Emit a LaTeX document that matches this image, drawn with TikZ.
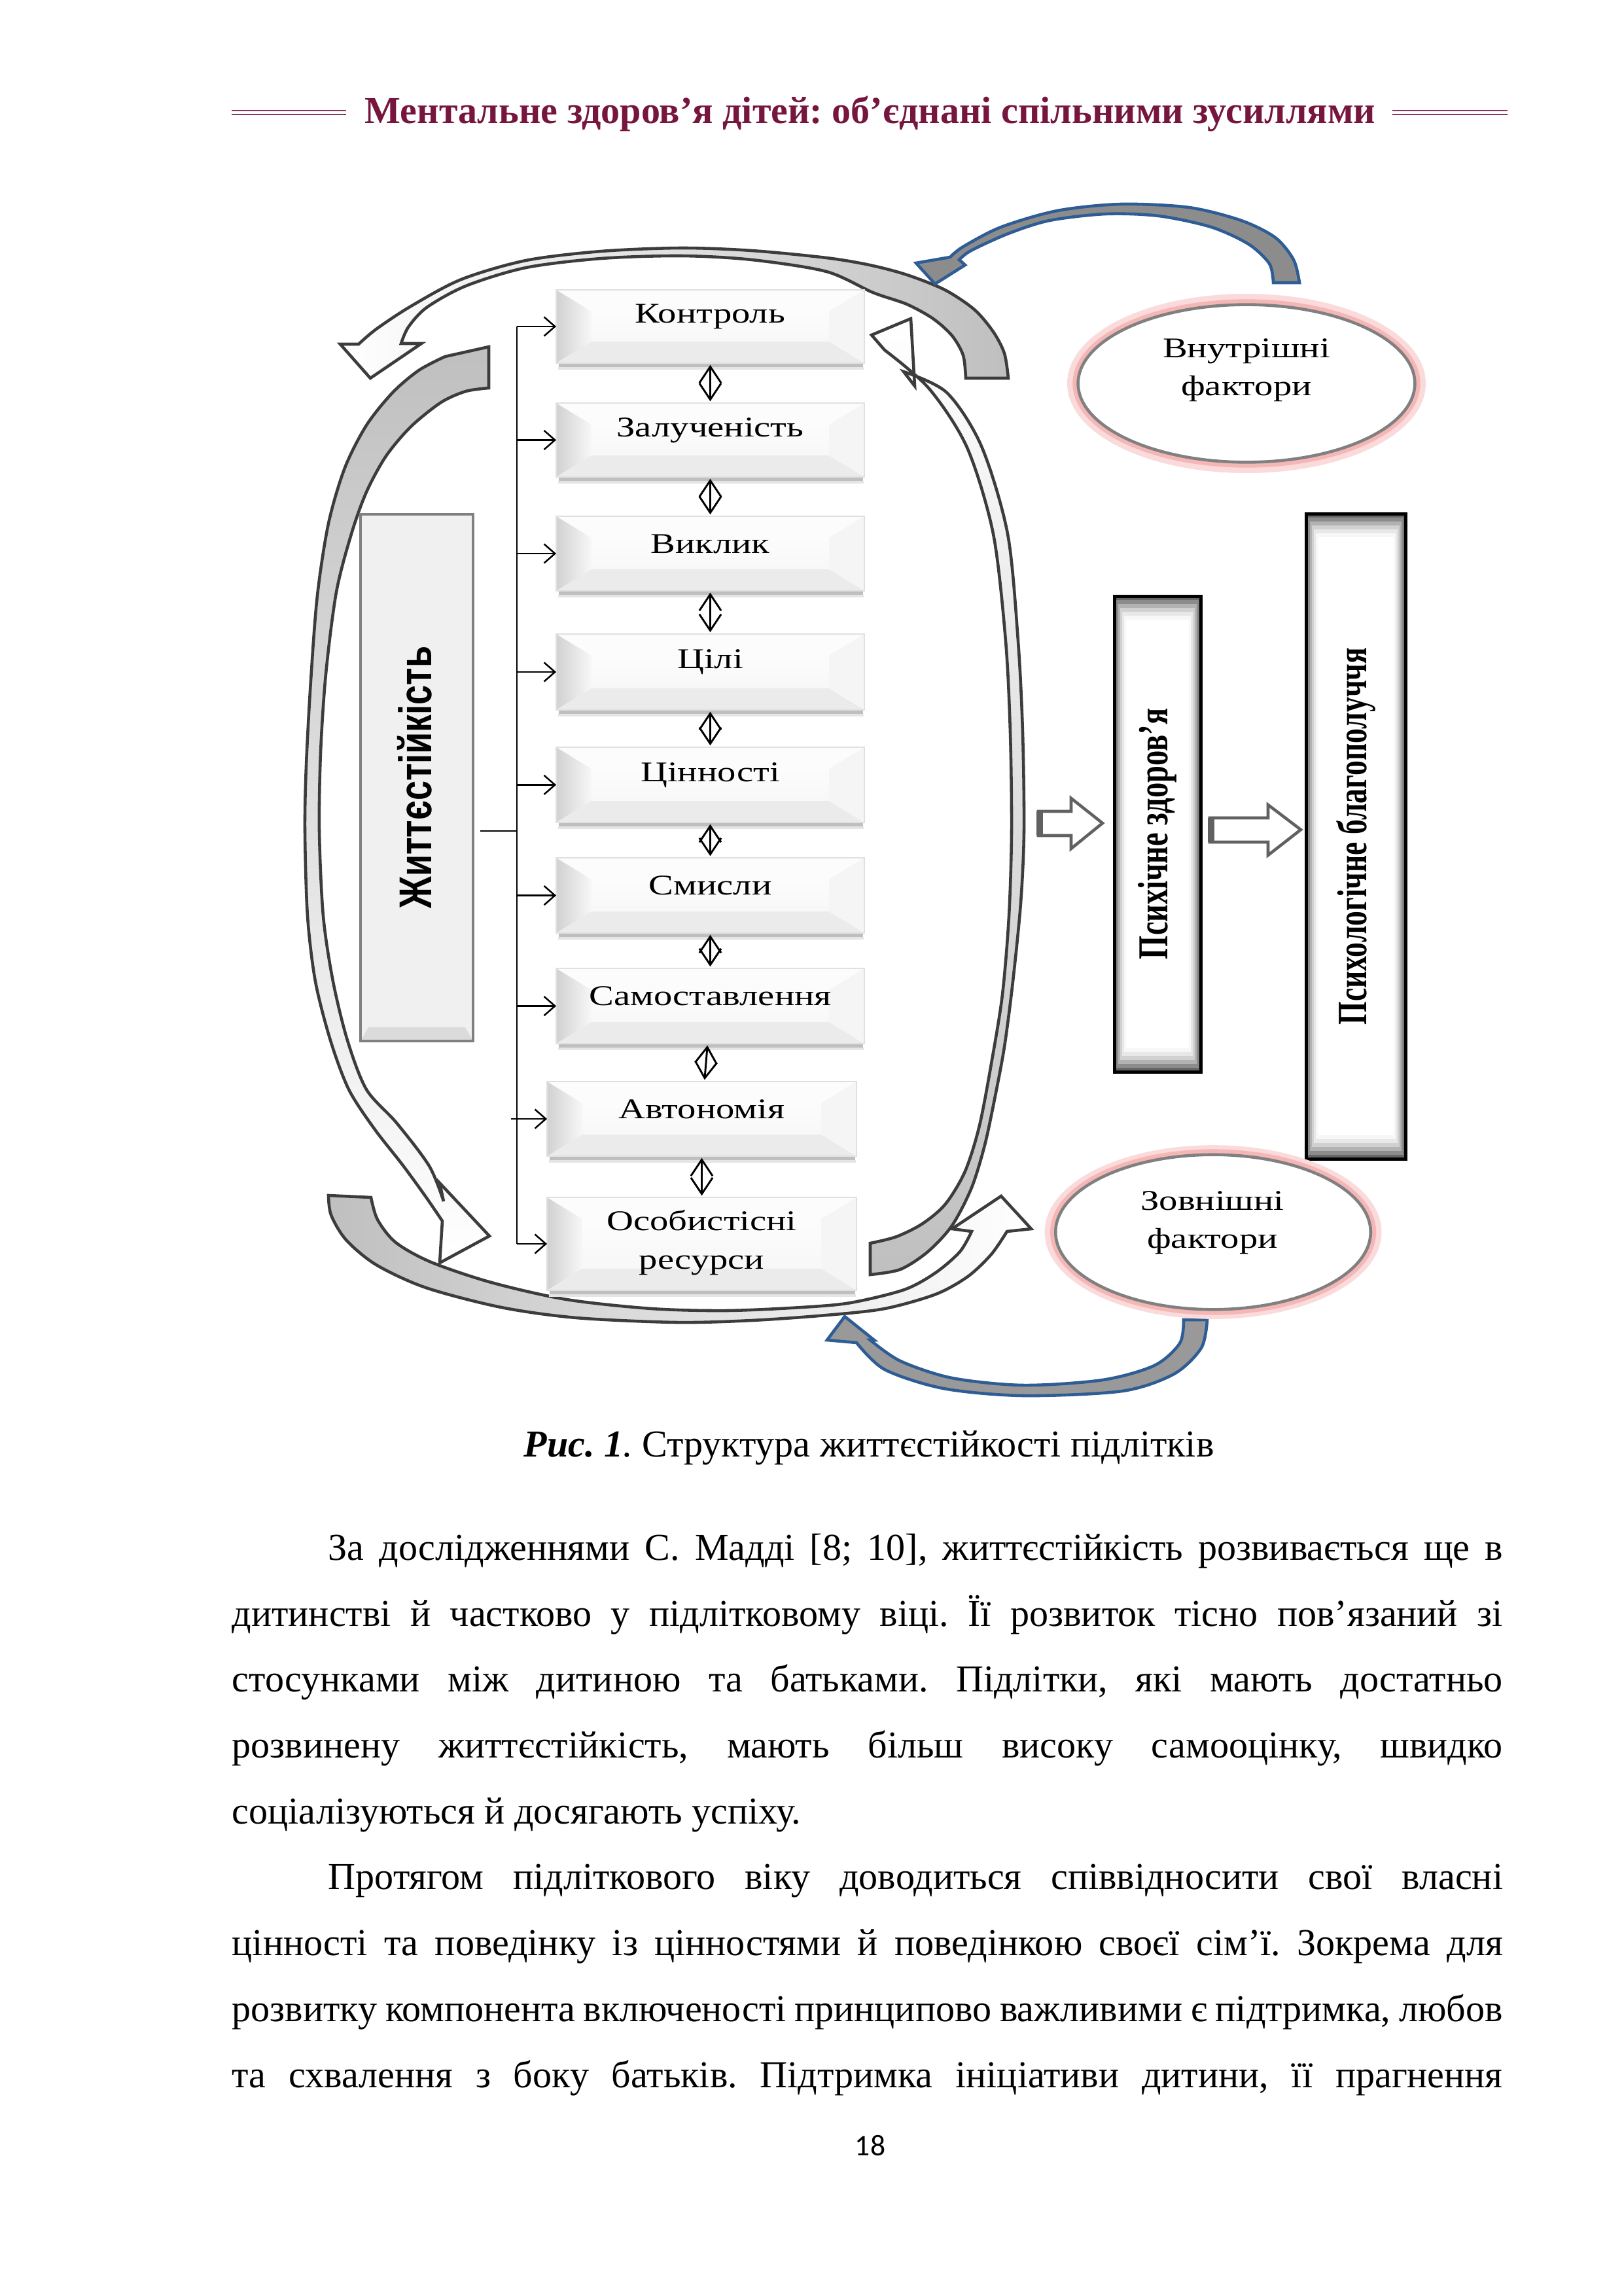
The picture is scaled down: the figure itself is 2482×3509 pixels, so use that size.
\documentclass[tikz,border=0pt]{standalone}
\usepackage{fontspec}
\usepackage{graphicx}
\setmainfont{Liberation Serif}
\newfontfamily\dgf[FakeStretch=1.3]{Liberation Serif}
\newfontfamily\sansb{Liberation Sans}
\newfontfamily\pnf{Carlito}
\usetikzlibrary{shapes.geometric,arrows.meta}
\definecolor{hdr}{RGB}{118,22,62}
\definecolor{hdrline}{RGB}{135,55,95}
\definecolor{arcline}{RGB}{60,60,60}
\definecolor{bluel}{RGB}{46,92,148}
\definecolor{glowc}{RGB}{240,150,150}
\definecolor{ringc}{RGB}{128,128,128}
\frenchspacing
% bevelled box: name, x1, y1, x2, y2 (pixels)
\newcommand{\bevbox}[5]{%
  \fill[black!25] (#2+4,#5) rectangle (#4-2,#5+6);
  \fill[black!10] (#2+3,#5+6) rectangle (#4-1,#5+10);
  \shade[top color=white,bottom color=black!4] (#2,#3) rectangle (#4,#5);
  \fill[black!1] (#2,#3) -- (#4,#3) -- (#4-54,#3+33) -- (#2+54,#3+33) -- cycle;
  \shade[left color=black!18,right color=black!3] (#2,#3) -- (#2+54,#3+33) -- (#2+54,#5-33) -- (#2,#5) -- cycle;
  \fill[black!8] (#2,#5) -- (#2+54,#5-33) -- (#4-54,#5-33) -- (#4,#5) -- cycle;
  \fill[black!4] (#4,#3) -- (#4,#5) -- (#4-54,#5-33) -- (#4-54,#3+33) -- cycle;
  \draw[black!12,line width=0.4pt] (#2,#3) rectangle (#4,#5);
  \node[inner sep=0pt,minimum width={(#4-#2)*0.24pt},minimum height={(#5-#3)*0.24pt}] (#1) at ({(#2+#4)/2},{(#3+#5)/2}) {};
}
% glow box: name, x1, y1, x2, y2
\newcommand{\glowbox}[5]{%
  \foreach \i/\c in {0/60,1/45,2/30,3/18,4/9,5/3}{%
    \fill[black!\c] (#2+3*\i,#3+6*\i) rectangle (#4-3*\i,#5-6*\i);}
  \fill[white] (#2+18,#3+36) rectangle (#4-18,#5-36);
  \draw[line width=1.2pt] (#2,#3) rectangle (#4,#5);
  \node[inner sep=0pt,minimum width={(#4-#2)*0.24pt},minimum height={(#5-#3)*0.24pt}] (#1) at ({(#2+#4)/2},{(#3+#5)/2}) {};
}
\begin{document}
\begin{tikzpicture}[x=0.0846667mm,y=-0.0846667mm,
  lbl/.style={font=\dgf\fontsize{10.5}{14.4}\selectfont,inner sep=0pt,align=center},
  br/.style={-{Straight Barb[length=4pt,width=7pt]},line width=0.6pt},
  dbl/.style={{Straight Barb[length=6pt,width=8pt]}-{Straight Barb[length=6pt,width=8pt]},line width=0.7pt,shorten <=0.5pt,shorten >=0.5pt},
  arcst/.style={draw=arcline,line width=1.1pt,line join=miter},
  bluest/.style={draw=bluel,line width=1.1pt,fill=black!45,line join=miter},
  hollow/.style={draw=black!62,line width=1.1pt,fill=white,line join=miter},
  body/.style={anchor=base west,inner sep=0pt,font=\fontsize{14}{16}\selectfont},
]
\useasboundingbox (0,0) rectangle (2482,3509);
\fill[white] (0,0) rectangle (2482,3509);

% ---------- header ----------
\node[anchor=base,inner sep=0pt,text=hdr,font=\bfseries\fontsize{14}{16}\selectfont] (title) at (1330,188) {Ментальне здоров’я дітей: об’єднані спільними зусиллями};
\draw[hdrline,line width=0.7pt] (354,169) -- (529,169);
\draw[hdrline,line width=0.7pt] (354,175) -- (529,175);
\draw[hdrline,line width=0.7pt] (2128,169) -- (2304,169);
\draw[hdrline,line width=0.7pt] (2128,175) -- (2304,175);

% ---------- big curved arrows around the column ----------
% top arc (tail right, head left)
\shadedraw[arcst,left color=white,right color=black!25]
  plot[smooth] coordinates {(1541,578) (1535,540) (1518,507) (1489,473) (1444,443) (1386,420) (1329,405) (1263,394) (1149,383) (1041,379) (919,384) (804,398) (705,427) (628,468) (575,503) (548,526)}
  -- (520,526) -- (566,578) -- (644,525)
  -- plot[smooth] coordinates {(613,525) (624,500) (652,470) (712,437) (804,409) (919,395) (1041,391) (1149,397) (1263,415) (1334,447) (1386,465) (1426,487) (1455,513) (1472,543) (1476,578)}
  -- cycle;
% right arc (tail bottom, head top)
\shadedraw[arcst,top color=white,bottom color=black!25]
  plot[smooth] coordinates {(1330,1948) (1376,1940) (1418,1913) (1455,1873) (1485,1815) (1505,1750) (1520,1680) (1535,1600) (1548,1500) (1560,1380) (1565,1270) (1563,1120) (1556,980) (1540,816) (1500,682) (1447,600) (1381,568)}
  -- (1398,590) -- (1392,487) -- (1332,512)
  -- plot[smooth] coordinates {(1352,535) (1420,594) (1478,684) (1518,816) (1537,980) (1544,1120) (1546,1270) (1542,1400) (1532,1520) (1516,1620) (1497,1720) (1475,1790) (1445,1840) (1410,1870) (1370,1890) (1330,1900)}
  -- cycle;
% left arc (tail top, head bottom)
\shadedraw[arcst,top color=black!25,bottom color=white]
  plot[smooth] coordinates {(680,545) (640,566) (600,600) (560,650) (527,715) (502,800) (485,910) (475,1040) (468,1170) (466,1270) (470,1400) (482,1500) (505,1590) (533,1665) (572,1725) (615,1780) (650,1828) (676,1866)}
  -- (672,1930) -- (748,1889) -- (672,1808)
  -- plot[smooth] coordinates {(678,1836) (656,1782) (606,1716) (560,1665) (531,1590) (509,1500) (494,1400) (488,1270) (490,1150) (498,1030) (514,905) (537,816) (560,752) (590,697) (628,652) (674,615) (712,598) (747,593)}
  -- (747,530) -- cycle;
% bottom arc (tail left, head right)
\shadedraw[arcst,left color=black!25,right color=white]
  plot[smooth] coordinates {(502,1827) (506,1857) (529,1895) (575,1933) (651,1968) (766,1998) (881,2014) (1034,2021) (1149,2018) (1263,2010) (1352,2000) (1430,1978) (1479,1951) (1515,1917) (1539,1882)}
  -- (1576,1878) -- (1530,1828) -- (1455,1878)
  -- plot[smooth] coordinates {(1485,1882) (1467,1913) (1430,1945) (1382,1971) (1300,1991) (1225,1998) (1110,2003) (996,2000) (866,1986) (751,1960) (659,1929) (605,1899) (577,1864) (567,1830)}
  -- cycle;

% ---------- blue curved arrows ----------
\filldraw[bluest]
  plot[smooth] coordinates {(1986,432) (1977,397) (1949,363) (1897,337) (1817,317) (1713,312) (1616,322) (1530,347) (1472,377) (1452,393)}
  -- (1400,402) -- (1429,434) -- (1475,405)
  -- plot[smooth] coordinates {(1466,397) (1484,383) (1541,357) (1604,337) (1690,327) (1771,330) (1851,347) (1908,373) (1940,403) (1946,432)}
  -- cycle;
\filldraw[bluest,fill=black!40]
  plot[smooth] coordinates {(1845,2017) (1836,2060) (1794,2100) (1715,2126) (1564,2133) (1442,2122) (1352,2093) (1309,2052)}
  -- (1264,2048) -- (1291,2012) -- (1336,2048)
  -- plot[smooth] coordinates {(1330,2048) (1376,2080) (1455,2106) (1564,2117) (1685,2109) (1764,2087) (1803,2053) (1809,2017)}
  -- cycle;

% ---------- column of boxes ----------
\bevbox{b1}{850}{443}{1321}{555}
\bevbox{b2}{850}{616}{1321}{729}
\bevbox{b3}{850}{789}{1321}{903}
\bevbox{b4}{850}{969}{1321}{1085}
\bevbox{b5}{850}{1142}{1321}{1257}
\bevbox{b6}{850}{1311}{1321}{1426}
\bevbox{b7}{850}{1480}{1321}{1595}
\bevbox{b8}{836}{1653}{1309}{1767}
\bevbox{b9}{836}{1830}{1309}{1972}
\path (b1.center) ++(0,-15) node[lbl] (t1) {Контроль};
\path (b2.center) ++(0,-15) node[lbl] (t2) {Залученість};
\path (b3.center) ++(0,-15) node[lbl] (t3) {Виклик};
\path (b4.center) ++(0,-15) node[lbl] (t4) {Цілі};
\path (b5.center) ++(0,-15) node[lbl] (t5) {Цінності};
\path (b6.center) ++(0,-15) node[lbl] (t6) {Смисли};
\path (b7.center) ++(0,-15) node[lbl] (t7) {Самоставлення};
\path (b8.center) ++(0,-15) node[lbl] (t8) {Автономія};
\path (b9.center) ++(0,-2) node[lbl] (t9) {Особистісні\\ресурси};

\draw[dbl] (b1.south) -- (b2.north);
\draw[dbl] (b2.south) -- (b3.north);
\draw[dbl] (b3.south) -- (b4.north);
\draw[dbl] (b4.south) -- (b5.north);
\draw[dbl] (b5.south) -- (b6.north);
\draw[dbl] (b6.south) -- (b7.north);
\draw[dbl] ([xshift=-1pt]b7.south) -- ([xshift=1pt]b8.north);
\draw[dbl] (b8.south) -- (b9.north);

% ---------- Життєстійкість box and connectors ----------
\fill[black!6] (551,786) rectangle (723,1591);
\fill[black!14] (551,1591) -- (563,1570) -- (711,1570) -- (723,1591) -- cycle;
\draw[black!50,line width=1pt] (551,786) rectangle (723,1591);
\node[inner sep=0pt,minimum width={172*0.24pt},minimum height={805*0.24pt}] (lb) at (637,1188) {};
\node[rotate=90,inner sep=0pt] (lbt) at (634,1188) {\scalebox{1}[1.3]{\sansb\bfseries\fontsize{13}{15}\selectfont Життєстійкість}};
\coordinate (trunk) at (790,1270);
\draw[line width=0.6pt] (trunk |- b1.west) -- (trunk |- b9.west);
\draw[line width=0.6pt] ([xshift=2.5pt]lb.east |- trunk) -- (trunk);
\foreach \b in {b1,b2,b3,b4,b5,b6,b7,b9}{\draw[br] (trunk |- \b.west) -- (\b.west);}
\draw[br] ([xshift=-2.2pt]trunk |- b8.west) -- (b8.west);

% ---------- outcome boxes ----------
\glowbox{ph}{1703}{911}{1835}{1638}
\glowbox{pw}{1996}{785}{2148}{1771}
\node[rotate=90,inner sep=0pt] (pht) at (ph.center) {\scalebox{1}[1.4]{\bfseries\fontsize{11.2}{12}\selectfont Психічне здоров’я}};
\node[rotate=90,inner sep=0pt] (pwt) at (pw.center) {\scalebox{1}[1.4]{\bfseries\fontsize{11}{12}\selectfont Психологічне благополуччя}};

\draw[hollow] (1587,1240) -- (1637,1240) -- (1637,1220) -- (1685,1258) -- (1637,1297) -- (1637,1277) -- (1587,1277) -- cycle;
\draw[black!62,line width=2.4pt] (1589,1240) -- (1589,1277);
\draw[hollow] (1849,1250) -- (1938,1250) -- (1938,1230) -- (1988,1268) -- (1938,1307) -- (1938,1287) -- (1849,1287) -- cycle;
\draw[black!62,line width=2.4pt] (1851,1250) -- (1851,1287);

% ---------- factor ellipses ----------
\draw[glowc!35,line width=4pt] (1905,586) ellipse [x radius=64pt,y radius=31pt];
\draw[glowc!70,line width=2pt] (1905,586) ellipse [x radius=63pt,y radius=30pt];
\filldraw[fill=white,draw=ringc,line width=1.1pt] (1905,586) ellipse [x radius=62pt,y radius=29pt];
\node[ellipse,inner sep=0pt,minimum width=124pt,minimum height=58pt] (inner) at (1905,586) {};
\node[lbl,font=\dgf\fontsize{10.5}{14}\selectfont] (innert) at (1905,566) {Внутрішні\\фактори};

\draw[glowc!35,line width=4pt] (1854,1883) ellipse [x radius=60pt,y radius=30pt];
\draw[glowc!70,line width=2pt] (1854,1883) ellipse [x radius=59pt,y radius=29.5pt];
\filldraw[fill=white,draw=ringc,line width=1.1pt] (1854,1883) ellipse [x radius=58pt,y radius=28.5pt];
\node[ellipse,inner sep=0pt,minimum width=116pt,minimum height=57pt] (outer) at (1854,1883) {};
\node[lbl,font=\dgf\fontsize{10.5}{14}\selectfont] (outert) at (1853,1869) {Зовнішні\\фактори};

% ---------- caption ----------
\node[anchor=base,inner sep=0pt,font=\fontsize{14}{16}\selectfont] (cap) at (1328,2226) {\textbf{\textit{Рис. 1}}\textit{.} Структура життєстійкості підлітків};

% ---------- body text ----------
\node[body] (l1) at (501,2384) {\makebox[432.5pt][s]{За дослідженнями С. Мадді [8; 10], життєстійкість розвивається ще в}};
\node[body] (l2) at (354,2485) {\makebox[467.8pt][s]{дитинстві й частково у підлітковому віці. Її розвиток тісно пов’язаний зі}};
\node[body] (l3) at (354,2585) {\makebox[467.8pt][s]{стосунками між дитиною та батьками. Підлітки, які мають достатньо}};
\node[body] (l4) at (354,2686) {\makebox[467.8pt][s]{розвинену життєстійкість, мають більш високу самооцінку, швидко}};
\node[body] (l5) at (354,2787) {соціалізуються й досягають успіху.};
\node[body] (l6) at (501,2887) {\makebox[432.5pt][s]{Протягом підліткового віку доводиться співвідносити свої власні}};
\node[body] (l7) at (354,2988) {\makebox[467.8pt][s]{цінності та поведінку із цінностями й поведінкою своєї сім’ї. Зокрема для}};
\node[body] (l8) at (354,3089) {\makebox[467.8pt][s]{розвитку компонента включеності принципово важливими є підтримка, любов}};
\node[body] (l9) at (354,3190) {\makebox[467.8pt][s]{та схвалення з боку батьків. Підтримка ініціативи дитини, її прагнення}};

\node[anchor=base,inner sep=0pt,font=\pnf\fontsize{11}{13}\selectfont] (pg) at (1330,3294) {18};
\end{tikzpicture}
\end{document}
